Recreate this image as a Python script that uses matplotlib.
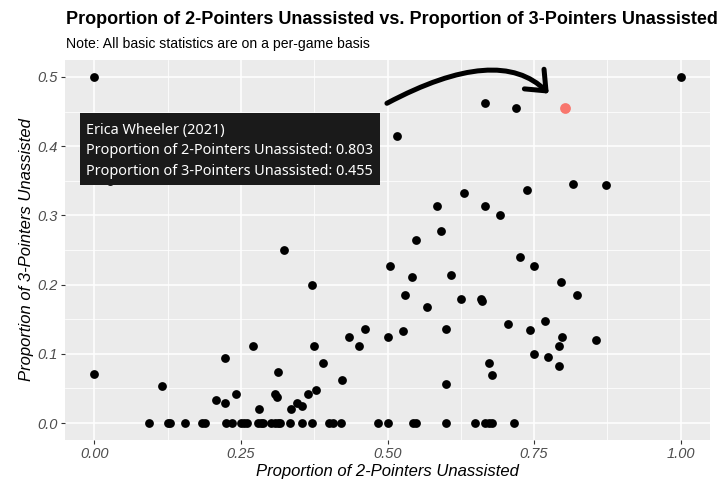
import matplotlib
matplotlib.use("Agg")
import matplotlib.pyplot as plt
from matplotlib.patches import Rectangle

# ---- data ----
x_nonzero = [0.000, 1.000, 0.667, 0.719, 0.517, 0.027, 0.817, 0.873, 0.738, 0.631,
             0.584, 0.667, 0.692, 0.591, 0.549, 0.324, 0.726, 0.504, 0.749, 0.608,
             0.542, 0.796, 0.371, 0.530, 0.823, 0.626, 0.660, 0.662, 0.567, 0.768,
             0.705, 0.462, 0.599, 0.743, 0.526, 0.435, 0.500, 0.798, 0.856, 0.271,
             0.374, 0.451, 0.793, 0.749, 0.773, 0.223, 0.390, 0.673, 0.793, 0.313,
             0.000, 0.678, 0.422, 0.599, 0.116, 0.378, 0.241, 0.308, 0.365, 0.311,
             0.208, 0.223, 0.345, 0.354, 0.280, 0.335]
y_nonzero = [0.500, 0.500, 0.463, 0.455, 0.415, 0.350, 0.346, 0.344, 0.337, 0.333,
             0.314, 0.314, 0.300, 0.278, 0.265, 0.250, 0.240, 0.227, 0.227, 0.214,
             0.211, 0.204, 0.200, 0.185, 0.185, 0.179, 0.179, 0.176, 0.167, 0.148,
             0.143, 0.136, 0.136, 0.134, 0.133, 0.125, 0.125, 0.125, 0.120, 0.111,
             0.111, 0.111, 0.111, 0.100, 0.095, 0.094, 0.087, 0.087, 0.083, 0.074,
             0.071, 0.069, 0.062, 0.056, 0.053, 0.048, 0.042, 0.042, 0.042, 0.037,
             0.033, 0.029, 0.029, 0.024, 0.020, 0.020]
x_zero = [0.093, 0.125, 0.129, 0.154, 0.184, 0.188, 0.225, 0.235, 0.250, 0.255,
          0.260, 0.279, 0.284, 0.288, 0.301, 0.308, 0.314, 0.317, 0.334, 0.354,
          0.371, 0.400, 0.407, 0.421, 0.483, 0.500, 0.543, 0.548, 0.600, 0.649,
          0.666, 0.673, 0.678, 0.716]
y_zero = [0.0] * len(x_zero)

highlight_name = "Erica Wheeler (2021)"
highlight_x = 0.803
highlight_y = 0.455

x_ticks = [0.00, 0.25, 0.50, 0.75, 1.00]
x_ticklabels = ["0.00", "0.25", "0.50", "0.75", "1.00"]
y_ticks = [0.0, 0.1, 0.2, 0.3, 0.4, 0.5]
y_ticklabels = ["0.0", "0.1", "0.2", "0.3", "0.4", "0.5"]

title = "Proportion of 2-Pointers Unassisted vs. Proportion of 3-Pointers Unassisted"
subtitle = "Note: All basic statistics are on a per-game basis"
xlabel = "Proportion of 2-Pointers Unassisted"
ylabel = "Proportion of 3-Pointers Unassisted"

plt.rcParams['font.family'] = ['Liberation Sans', 'DejaVu Sans']

W, H = 724, 486
fig = plt.figure(figsize=(W / 100, H / 100), dpi=100)
ax = fig.add_axes([65 / W, 1 - 440.3 / H, (710 - 65) / W, (440.3 - 59.7) / H])
ax.set_facecolor("#EBEBEB")
for s in ax.spines.values():
    s.set_visible(False)

ax.set_xlim(-0.05, 1.05)
ax.set_ylim(-0.025, 0.525)
ax.set_xticks(x_ticks)
ax.set_xticklabels(x_ticklabels)
ax.set_yticks(y_ticks)
ax.set_yticklabels(y_ticklabels)
ax.set_xticks([0.125, 0.375, 0.625, 0.875], minor=True)
ax.set_yticks([0.05, 0.15, 0.25, 0.35, 0.45], minor=True)
ax.grid(which="major", color="white", linewidth=1.1)
ax.grid(which="minor", color="white", linewidth=0.55)
ax.set_axisbelow(True)
ax.tick_params(which="major", length=3, width=0.8, color="#333333",
               labelsize=10.5, labelcolor="#4D4D4D", pad=2)
ax.tick_params(which="minor", length=0)
for lab in ax.get_xticklabels() + ax.get_yticklabels():
    lab.set_fontstyle("italic")

ax.scatter(x_nonzero + x_zero, y_nonzero + y_zero, s=40, color="black",
           linewidths=0, zorder=3)
ax.scatter([highlight_x], [highlight_y], s=60, color="#F8766D", linewidths=0, zorder=4)

ax.set_xlabel(xlabel, fontsize=12, fontstyle="italic", color="black", labelpad=2)
ax.set_ylabel(ylabel, fontsize=12, fontstyle="italic", color="black", labelpad=3)

fig.text(66 / W, 1 - 20 / H, title, fontsize=13, fontweight="bold", va="center", ha="left")
fig.text(66 / W, 1 - 44 / H, subtitle, fontsize=10.1, va="center", ha="left")

# arrow annotation
ax.annotate("", xy=(0.775, 0.476), xytext=(0.499, 0.462),
            arrowprops=dict(arrowstyle="->,head_length=0.6,head_width=0.5",
                            connectionstyle="angle3,angleA=28,angleB=-45", lw=3.6,
                            color="black", mutation_scale=20, shrinkA=0, shrinkB=0,
                            capstyle="round", joinstyle="round"),
            zorder=5)

# tooltip box
fig.add_artist(Rectangle((80 / W, 1 - 185 / H), 300 / W, 72.3 / H,
                         transform=fig.transFigure, facecolor="#1A1A1A",
                         edgecolor="none", zorder=10))
tip_lines = [highlight_name,
             f"Proportion of 2-Pointers Unassisted: {highlight_x:.3f}",
             f"Proportion of 3-Pointers Unassisted: {highlight_y:.3f}"]
for i, line in enumerate(tip_lines):
    fig.text(86 / W, 1 - (130.5 + 20.5 * i) / H, line, fontsize=10.4,
             family=["Noto Sans", "DejaVu Sans"], color="white",
             va="center", ha="left", zorder=11)

fig.savefig("out.png", dpi=100)
